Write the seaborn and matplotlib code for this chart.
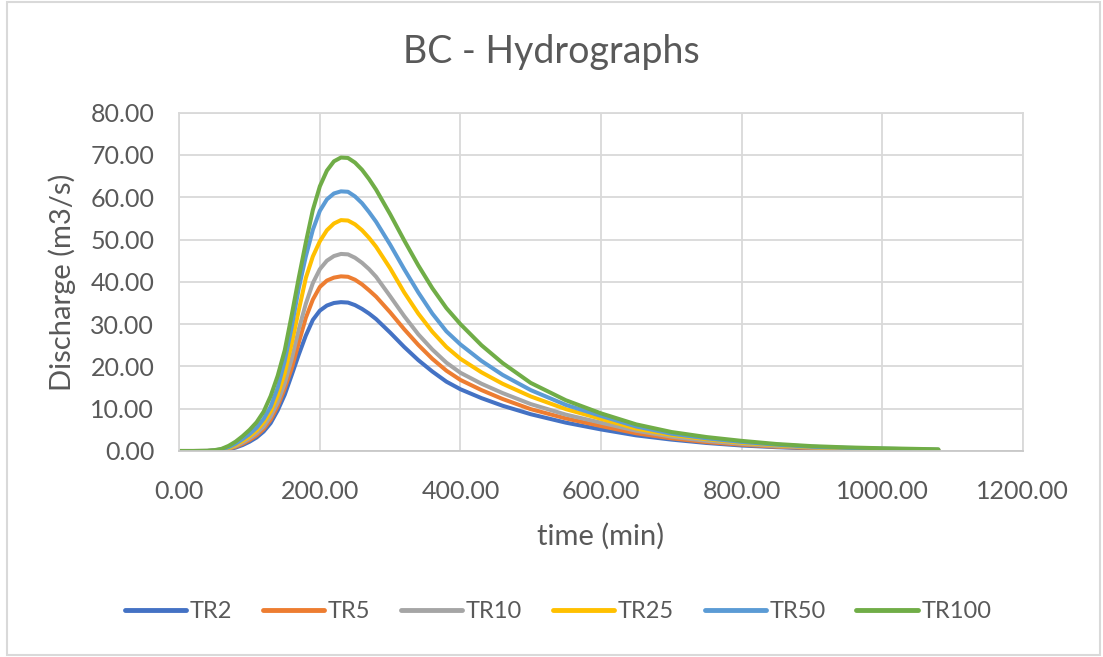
import matplotlib
matplotlib.use("Agg")
import matplotlib.pyplot as plt
from matplotlib.patches import Rectangle
import seaborn as sns
import pandas as pd

time_min = [0, 20, 40, 50, 60, 70, 80, 90, 100, 110, 120, 130, 140, 150, 160, 170, 180, 190,
            200, 210, 220, 230, 240, 250, 260, 270, 280, 300, 320, 340, 360, 380, 400, 430,
            460, 500, 550, 600, 650, 700, 750, 800, 850, 900, 950, 1000, 1080]

tr2 = [0, 0, 0, 0.03, 0.15, 0.4, 0.8, 1.4, 2.2, 3.2, 4.6, 6.6, 9.6, 13.3, 18.0, 22.8, 27.3, 31.0,
       33.2, 34.4, 35.0, 35.2, 35.1, 34.5, 33.6, 32.5, 31.2, 28.0, 24.6, 21.5, 18.8, 16.4, 14.6, 12.5,
       10.7, 8.7, 6.7, 5.1, 3.7, 2.7, 1.9, 1.3, 0.9, 0.6, 0.45, 0.3, 0.15]
tr5 = [0, 0, 0, 0.05, 0.2, 0.5, 1.0, 1.7, 2.6, 3.7, 5.2, 7.4, 10.6, 14.8, 19.6, 25.6, 31.5, 35.8,
       38.8, 40.3, 41.0, 41.3, 41.2, 40.5, 39.4, 38.0, 36.5, 32.8, 28.8, 25.1, 21.8, 19.0, 16.8, 14.4,
       12.3, 9.9, 7.7, 5.9, 4.2, 3.0, 2.1, 1.5, 1.0, 0.7, 0.5, 0.35, 0.2]
tr10 = [0, 0, 0.01, 0.08, 0.25, 0.6, 1.2, 2.0, 3.0, 4.2, 5.8, 8.2, 11.5, 16.0, 21.8, 28.8, 34.8, 39.7,
        43.0, 45.0, 46.1, 46.6, 46.5, 45.7, 44.5, 43.0, 41.2, 36.6, 31.9, 27.6, 24.0, 20.9, 18.5, 15.9,
        13.7, 11.1, 8.6, 6.7, 4.8, 3.4, 2.4, 1.7, 1.15, 0.8, 0.55, 0.4, 0.2]
tr25 = [0, 0, 0.02, 0.1, 0.3, 0.7, 1.4, 2.4, 3.5, 4.9, 6.8, 9.4, 13.2, 18.4, 25.5, 33.3, 40.9, 46.0,
        49.6, 52.2, 53.8, 54.6, 54.5, 53.6, 52.2, 50.4, 48.3, 43.2, 37.5, 32.5, 28.2, 24.6, 21.8, 18.6,
        15.9, 12.9, 9.9, 7.6, 5.3, 3.8, 2.8, 1.95, 1.35, 0.9, 0.65, 0.45, 0.25]
tr50 = [0, 0, 0.03, 0.15, 0.4, 0.9, 1.7, 2.8, 4.0, 5.5, 7.6, 10.5, 15.0, 21.3, 29.4, 38.5, 46.0, 52.3,
        56.8, 59.5, 60.9, 61.4, 61.3, 60.2, 58.6, 56.5, 54.2, 48.8, 43.0, 37.5, 32.5, 28.3, 25.2, 21.3,
        18.0, 14.4, 10.9, 8.3, 5.8, 4.1, 3.0, 2.15, 1.5, 1.0, 0.75, 0.55, 0.3]
tr100 = [0, 0, 0.05, 0.2, 0.5, 1.2, 2.2, 3.5, 5.0, 6.8, 9.3, 13.0, 17.8, 23.8, 32.2, 41.0, 49.3, 57.0,
         62.6, 66.3, 68.5, 69.4, 69.3, 68.2, 66.5, 64.3, 61.8, 56.0, 49.8, 43.9, 38.5, 33.8, 30.0, 25.0,
         20.8, 16.1, 12.0, 8.9, 6.3, 4.5, 3.3, 2.4, 1.65, 1.15, 0.85, 0.65, 0.4]

series_names = ["TR2", "TR5", "TR10", "TR25", "TR50", "TR100"]
series_values = [tr2, tr5, tr10, tr25, tr50, tr100]
colors = ["#4472C4", "#ED7D31", "#A5A5A5", "#FFC000", "#5B9BD5", "#70AD47"]

x_ticks = [0, 200, 400, 600, 800, 1000, 1200]
y_ticks = [0, 10, 20, 30, 40, 50, 60, 70, 80]

rows = []
for name, vals in zip(series_names, series_values):
    for t, q in zip(time_min, vals):
        rows.append({"time": t, "Q": q, "series": name})
df = pd.DataFrame(rows)

sns.set_theme(style="white")
plt.rcParams["font.family"] = ["Lato", "DejaVu Sans"]

txt = "#595959"
grid = "#d9d9d9"

fig = plt.figure(figsize=(11.03, 6.57), dpi=100)
ax = fig.add_axes([179.3 / 1103, 1 - 451 / 657, (1022.7 - 179.3) / 1103, (451 - 112.7) / 657])

sns.lineplot(data=df, x="time", y="Q", hue="series", hue_order=series_names,
             palette=colors, linewidth=2.9, ax=ax, legend=True, sort=False)

ax.set_xlim(0, 1200)
ax.set_ylim(0, 80)
ax.set_xticks(x_ticks)
ax.set_yticks(y_ticks)
ax.set_xticklabels([f"{v:.2f}" for v in x_ticks])
ax.set_yticklabels([f"{v:.2f}" for v in y_ticks])
ax.tick_params(axis="both", length=0, labelsize=18, labelcolor=txt)
ax.tick_params(axis="y", pad=18)
ax.tick_params(axis="x", pad=21)
ax.grid(True, color=grid, linewidth=1.3)
ax.set_axisbelow(True)
for s in ax.spines.values():
    s.set_color(grid)
    s.set_linewidth(1.3)
ax.spines["bottom"].set_color("#c8c8c8")

ax.set_xlabel("time (min)", fontsize=21, color=txt, labelpad=14)
ax.set_ylabel("Discharge (m3/s)", fontsize=21, color=txt, labelpad=10)
fig.text(0.5, 1 - 52 / 657, "BC - Hydrographs", ha="center", va="center", fontsize=27, color=txt)

handles, labels = ax.get_legend_handles_labels()
ax.get_legend().remove()
leg = fig.legend(handles, labels, loc="center", bbox_to_anchor=(0.506, 1 - 612 / 657),
                 ncol=6, frameon=False, fontsize=17, handlelength=2.6, columnspacing=1.3,
                 handletextpad=0.15)
for h in leg.get_lines():
    h.set_linewidth(3.5)
for t in leg.get_texts():
    t.set_color(txt)

fig.patches.append(Rectangle((7 / 1103, 2 / 657), 1093 / 1103, 653 / 657, transform=fig.transFigure,
                             fill=False, edgecolor=grid, linewidth=1.5))

fig.savefig("out.png", dpi=100, facecolor="white")
